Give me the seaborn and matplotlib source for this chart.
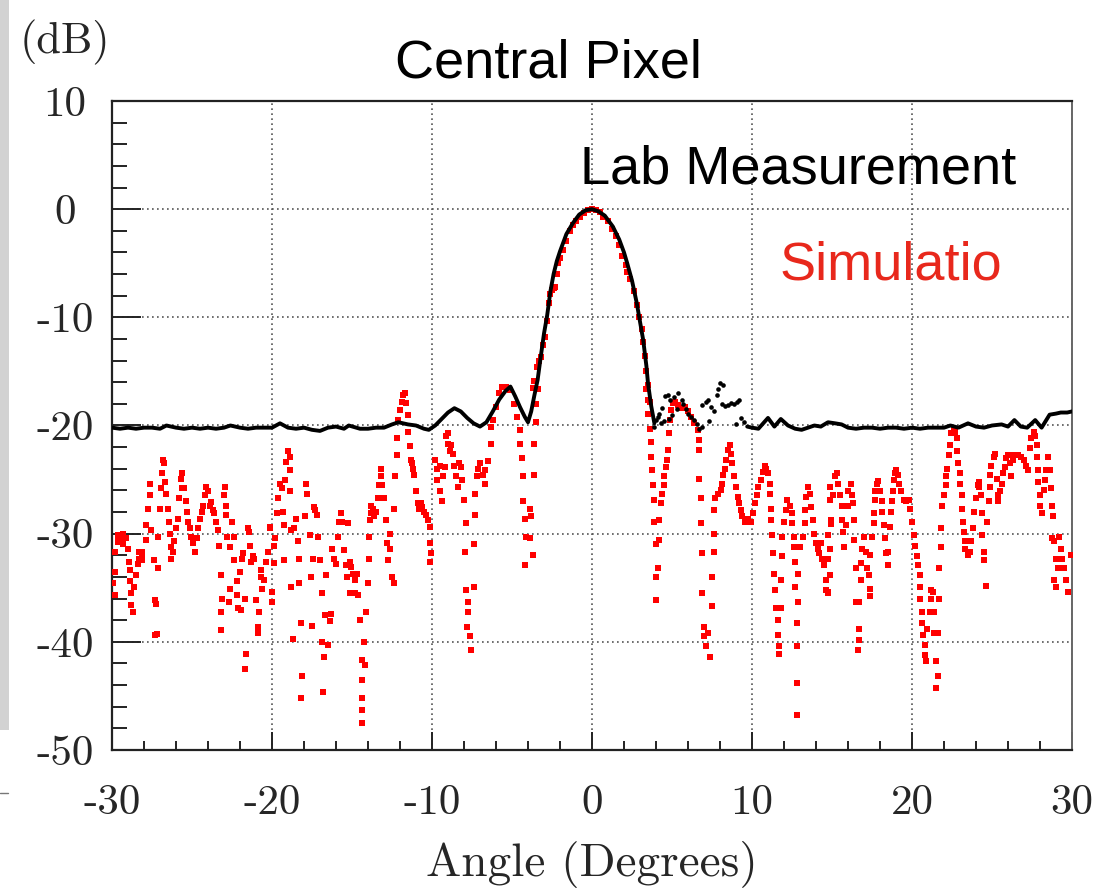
import matplotlib
matplotlib.use("Agg")
import matplotlib.pyplot as plt
import seaborn as sns
import pandas as pd
from matplotlib.ticker import MultipleLocator
from matplotlib.patches import Rectangle
from matplotlib.lines import Line2D

# ---------------- texts ----------------
TITLE = "Central Pixel"
LABEL_MEAS = "Lab Measurement"
LABEL_SIM = "Simulatio"
Y_UNIT = "(dB)"
X_LABEL = "Angle (Degrees)"
x_ticks = [-30, -20, -10, 0, 10, 20, 30]
y_ticks = [-50, -40, -30, -20, -10, 0, 10]

# ---------------- lab measurement (angle, dB) ----------------
meas_line_left = [
    (-30, -20.2), (-29.5, -20.3), (-29, -20.2), (-28.5, -20.3), (-28, -20.2), (-27.5, -20.2),
    (-27, -20.3), (-26.6, -20.0), (-26, -20.2), (-25.5, -20.3), (-25, -20.2), (-24.5, -20.3),
    (-24, -20.2), (-23.5, -20.3), (-23, -20.2), (-22.6, -20.0), (-22, -20.2), (-21.5, -20.3),
    (-21, -20.2), (-20.5, -20.2), (-20, -20.2), (-19.5, -19.8), (-19, -20.2), (-18.5, -20.3),
    (-18, -20.2), (-17.5, -20.4), (-17, -20.5), (-16.5, -20.2), (-16, -20.1), (-15.5, -20.3),
    (-15.2, -20.0), (-14.5, -20.3), (-14, -20.3), (-13.5, -20.2), (-13, -20.2), (-12.5, -19.9),
    (-12.1, -19.7), (-11.5, -19.9), (-11, -20.0), (-10.5, -20.3), (-10.2, -20.4), (-9.8, -20.0),
    (-9.4, -19.4), (-9.0, -18.8), (-8.6, -18.4), (-8.2, -18.7), (-7.8, -19.3), (-7.4, -19.8),
    (-7.0, -20.1), (-6.6, -19.7), (-6.2, -18.7), (-5.8, -17.6), (-5.4, -16.8), (-5.1, -16.4),
    (-4.8, -17.3), (-4.5, -18.3), (-4.2, -19.2), (-4.0, -19.7), (-3.8, -18.7), (-3.6, -17.2),
    (-3.4, -15.8), (-3.2, -13.6), (-3.0, -11.5), (-2.8, -9.8), (-2.6, -7.6), (-2.4, -6.0),
    (-2.2, -4.8), (-2.0, -3.9), (-1.6, -2.3), (-1.2, -1.3), (-0.8, -0.5), (-0.4, -0.1),
    (0, 0), (0.4, -0.2), (0.8, -0.6), (1.3, -1.6), (1.7, -2.8), (2.0, -4.0), (2.2, -5.0),
    (2.5, -6.6), (2.8, -8.7), (3.0, -10.4), (3.2, -12.1), (3.4, -14.5), (3.5, -16.1),
    (3.7, -18.2), (3.9, -19.8),
]
meas_line_right = [
    (9.7, -20.1), (10.0, -20.2), (10.4, -20.3), (10.7, -19.8), (11.0, -19.3), (11.4, -20.1),
    (11.8, -19.4), (12.25, -20.0), (12.7, -20.3), (13.1, -20.4), (13.5, -20.2), (13.9, -20.0),
    (14.3, -20.1), (14.75, -19.7), (15.2, -19.8), (15.6, -19.9), (16.0, -20.2), (16.5, -20.3),
    (17.0, -20.2), (17.5, -20.2), (18.0, -20.3), (18.5, -20.2), (19.0, -20.2), (19.5, -20.3),
    (20.0, -20.2), (20.5, -20.3), (21.0, -20.2), (21.5, -20.2), (22.0, -20.2), (22.4, -20.0),
    (22.9, -20.2), (23.5, -19.8), (24.0, -20.1), (24.5, -20.2), (25.0, -20.0), (25.6, -19.9),
    (26.0, -20.1), (26.4, -19.5), (26.8, -20.1), (27.2, -20.2), (27.7, -19.5), (28.1, -20.2),
    (28.6, -19.0), (29.0, -18.9), (29.3, -18.8), (29.7, -18.8), (30.0, -18.7),
]
meas_points = [
    (3.9, -20.1), (4.0, -19.5), (4.1, -19.2), (4.2, -18.9), (4.35, -18.4), (4.55, -17.3),
    (4.75, -17.2), (4.9, -17.6), (5.1, -17.4), (5.4, -17.0), (5.6, -17.6), (5.7, -18.0),
    (5.85, -18.5), (6.0, -18.9), (6.2, -19.2), (6.4, -19.5), (6.55, -19.9), (6.7, -20.3),
    (6.9, -18.1), (7.1, -17.8), (7.25, -17.6), (7.45, -18.3), (7.6, -18.7), (7.8, -17.2),
    (7.9, -16.6), (8.0, -16.1), (8.2, -16.3), (8.1, -18.0), (8.3, -18.2), (8.5, -18.1),
    (8.7, -17.9), (8.9, -18.0), (9.05, -17.8), (9.2, -17.6), (9.3, -19.3), (9.5, -19.7),
    (4.3, -19.8), (4.5, -19.6), (4.8, -19.4), (5.0, -19.0), (5.3, -18.5), (6.9, -20.1),
    (7.3, -19.6), (9.0, -19.9),
]

# ---------------- simulation (angle, dB) ----------------
sim_far_left = [
    (-29.94, -34.6), (-29.83, -31.7), (-29.83, -33.5), (-29.83, -35.7), (-29.6, -30.1), (-29.6, -30.5),
    (-29.6, -30.8), (-29.45, -30.2), (-29.3, -30.0), (-29.3, -30.6), (-29.3, -31.0), (-29.1, -30.4),
    (-29.0, -31.4), (-28.96, -32.6), (-28.9, -33.4), (-28.9, -34.4), (-28.8, -35.5), (-28.8, -36.6),
    (-28.7, -37.2), (-28.6, -34.9), (-28.5, -33.8), (-28.4, -32.8), (-28.3, -31.7), (-28.3, -32.3),
    (-28.1, -31.7), (-28.1, -32.0), (-28.1, -32.4), (-27.85, -30.6), (-27.85, -29.2), (-27.75, -27.7),
    (-27.65, -26.4), (-27.65, -25.4), (-27.55, -29.7), (-27.4, -32.4), (-27.3, -36.1), (-27.25, -36.5),
    (-27.3, -39.4), (-27.2, -39.3), (-27.1, -33.2), (-27.1, -30.3), (-27.0, -27.7), (-26.96, -25.8),
    (-26.9, -24.4), (-26.8, -23.2), (-26.75, -23.5), (-26.67, -25.2), (-26.6, -26.3), (-26.5, -27.7),
    (-26.45, -28.9), (-26.4, -30.0), (-26.3, -31.2), (-26.3, -32.3), (-26.2, -31.7), (-26.1, -30.7),
    (-26.0, -29.5), (-25.9, -28.6), (-25.8, -26.7), (-25.7, -24.9), (-25.6, -24.4), (-25.6, -25.8),
    (-25.5, -25.8), (-25.35, -27.0), (-25.3, -28.0), (-25.25, -28.9), (-25.15, -29.5), (-25.05, -30.3),
    (-24.94, -30.9), (-24.8, -31.7), (-24.7, -30.4), (-24.6, -29.5), (-24.5, -28.6), (-24.4, -28.0),
    (-24.3, -27.4), (-24.2, -26.4), (-24.1, -25.7), (-24.0, -26.1), (-23.9, -27.4), (-23.8, -27.1),
    (-23.7, -27.8), (-23.6, -28.1), (-23.5, -28.9), (-23.4, -29.7), (-23.3, -31.1), (-23.2, -33.8),
    (-23.2, -37.2), (-23.2, -38.9), (-23.1, -36.0), (-23.0, -26.4), (-22.96, -25.7), (-22.9, -27.4),
    (-22.85, -28.3), (-22.8, -30.3), (-22.7, -36.3), (-22.65, -35.1), (-22.6, -31.2), (-22.5, -28.9),
    (-22.4, -30.3), (-22.35, -32.4), (-22.2, -34.4), (-22.2, -35.7), (-22.1, -36.9), (-21.96, -37.1),
    (-22.0, -33.5), (-21.9, -32.3), (-21.8, -31.8), (-21.7, -42.5), (-21.65, -41.1), (-21.7, -36.0),
    (-21.5, -29.5), (-21.45, -29.8), (-21.4, -31.1), (-21.3, -32.6), (-21.2, -32.1), (-21.1, -32.3),
    (-21.0, -36.1), (-20.9, -38.6), (-20.9, -39.2), (-20.8, -37.2), (-20.7, -34.0), (-20.7, -33.4),
    (-20.6, -35.1), (-20.5, -34.3), (-20.35, -32.6), (-20.25, -31.7), (-20.1, -29.5), (-20.1, -29.4),
    (-20.0, -35.4), (-20.0, -36.3), (-19.9, -32.7), (-19.9, -31.1), (-19.8, -30.4), (-19.7, -28.1),
    (-19.6, -26.7), (-19.5, -25.4), (-19.4, -25.8), (-19.3, -28.0), (-19.25, -29.2), (-19.25, -32.4),
    (-19.2, -25.0), (-19.1, -23.4), (-19.0, -22.4), (-18.9, -22.9), (-18.9, -24.1), (-18.85, -26.1),
    (-18.8, -29.7), (-18.8, -34.9), (-18.7, -39.7), (-18.6, -29.5), (-18.5, -28.6), (-18.4, -30.7),
    (-18.3, -32.3), (-18.3, -34.6), (-18.2, -38.3), (-18.1, -43.2), (-18.2, -45.2), (-17.96, -28.4),
    (-17.85, -25.4), (-17.8, -26.3), (-17.65, -30.1), (-17.55, -34.0), (-17.5, -38.5), (-17.45, -32.3),
    (-17.4, -27.5), (-17.3, -27.8), (-17.2, -28.3), (-17.1, -30.3), (-17.0, -32.4), (-16.9, -35.5),
    (-16.85, -40.0), (-16.8, -44.6), (-16.75, -41.4), (-16.7, -37.5), (-16.6, -33.8), (-16.5, -40.3),
    (-16.4, -38.1), (-16.3, -37.4), (-16.25, -31.4), (-16.1, -32.3), (-16.0, -32.8), (-15.9, -30.3),
    (-15.8, -28.9), (-15.7, -28.1), (-15.6, -28.9), (-15.5, -31.5), (-15.35, -32.9), (-15.3, -34.0),
    (-15.15, -35.5),
]
sim_near_left = [
    (-15.25, -29.0), (-15.15, -32.6), (-15.05, -33.1), (-14.94, -33.7), (-14.8, -34.3), (-14.8, -35.5),
    (-14.7, -33.7), (-14.6, -35.7), (-14.5, -38.0), (-14.4, -41.7), (-14.4, -43.5), (-14.4, -45.2),
    (-14.4, -46.3), (-14.4, -47.5), (-14.25, -40.0), (-14.2, -42.1), (-14.1, -37.2), (-14.0, -34.6),
    (-13.96, -32.3), (-13.96, -30.3), (-13.9, -28.7), (-13.8, -28.1), (-13.8, -27.4), (-13.7, -27.7),
    (-13.6, -28.4), (-13.5, -28.0), (-13.4, -26.7), (-13.3, -25.5), (-13.2, -24.7), (-13.2, -24.0),
    (-13.1, -25.5), (-13.0, -26.7), (-12.85, -28.7), (-12.8, -30.9), (-12.75, -32.4), (-12.65, -30.0),
    (-12.6, -31.4), (-12.5, -34.0), (-12.4, -34.6), (-12.4, -27.7), (-12.3, -24.7), (-12.2, -22.7),
    (-12.2, -21.2), (-12.1, -19.5), (-12.0, -18.6), (-11.9, -17.8), (-11.8, -17.2), (-11.7, -17.0),
    (-11.6, -17.9), (-11.5, -19.0), (-11.5, -20.6), (-11.4, -21.9), (-11.3, -23.2), (-11.25, -23.5),
    (-11.2, -24.0), (-11.1, -24.6), (-11.0, -26.1), (-10.9, -27.2), (-10.8, -27.7), (-10.7, -27.2),
    (-10.6, -27.5), (-10.5, -28.0), (-10.35, -28.3), (-10.25, -28.7), (-10.15, -29.4), (-10.1, -30.9),
    (-10.05, -31.8), (-10.1, -32.6), (-9.8, -23.2), (-9.7, -24.0), (-9.7, -25.0), (-9.5, -26.1),
    (-9.4, -27.0), (-9.5, -23.7), (-9.3, -24.7), (-9.2, -23.8), (-9.1, -21.0), (-9.0, -20.7),
    (-9.0, -21.7), (-8.9, -22.4), (-8.8, -21.8), (-8.7, -22.6), (-8.6, -23.7), (-8.5, -24.7),
    (-8.4, -25.7), (-8.3, -23.5), (-8.2, -23.8), (-8.1, -25.0), (-8.0, -26.9), (-7.9, -29.0),
    (-7.96, -31.7), (-7.85, -35.2), (-7.75, -36.3), (-7.75, -37.2), (-7.8, -38.6), (-7.65, -39.5),
    (-7.55, -40.8), (-7.4, -34.9), (-7.4, -31.0), (-7.3, -28.3), (-7.3, -26.3), (-7.2, -24.7),
    (-7.1, -24.0), (-7.0, -23.5), (-6.8, -24.6), (-6.7, -25.4), (-6.7, -24.1), (-6.5, -23.3),
    (-6.3, -21.7), (-6.3, -20.1), (-6.2, -19.5), (-6.0, -18.3), (-5.8, -17.0), (-5.6, -16.4),
    (-5.4, -16.4), (-5.15, -16.7), (-4.9, -18.0), (-4.7, -19.2), (-4.5, -20.4), (-4.5, -21.7),
    (-4.4, -23.0), (-4.3, -24.7), (-4.3, -27.0), (-4.2, -28.6), (-4.1, -30.3), (-4.2, -32.9),
    (-3.9, -30.4), (-3.8, -28.4), (-3.7, -32.0), (-3.9, -27.7), (-3.6, -24.6), (-3.6, -21.7),
    (-3.5, -19.7), (-3.5, -18.0), (-3.4, -16.6),
]
sim_main_lobe = [
    (-3.7, -16.5), (-3.6, -15.9), (-3.45, -14.6), (-3.3, -14.0), (-3.2, -13.7), (-3.05, -12.6),
    (-2.95, -11.8), (-2.8, -10.3), (-2.7, -8.7), (-2.6, -7.8), (-2.5, -7.5), (-2.4, -7.3),
    (-2.3, -7.2), (-2.2, -6.0), (-2.1, -5.0), (-2.0, -4.5), (-1.8, -3.8), (-1.6, -2.9),
    (-1.4, -2.0), (-1.2, -1.5), (-1.0, -1.1), (-0.75, -0.7), (-0.5, -0.4), (-0.25, -0.1),
    (0, 0), (0.25, -0.1), (0.5, -0.3), (0.7, -0.7), (1.0, -1.1), (1.25, -1.8), (1.5, -2.5),
    (1.7, -3.3), (1.9, -4.3), (2.1, -5.2), (2.2, -5.8), (2.4, -6.5), (2.6, -7.6), (2.8, -8.9),
    (2.95, -10.0), (3.1, -11.1), (3.2, -12.3), (3.3, -13.6), (3.4, -15.0), (3.5, -16.3),
    (3.6, -17.8),
]
sim_near_right = [
    (3.4, -16.6), (3.5, -17.6), (3.5, -18.9), (3.6, -20.3), (3.7, -21.5), (3.7, -22.9),
    (3.75, -24.1), (3.8, -25.5), (3.9, -26.9), (3.9, -28.9), (4.0, -31.0), (4.0, -34.0),
    (4.0, -36.1), (4.1, -33.2), (4.2, -30.6), (4.2, -28.7), (4.3, -27.2), (4.4, -26.3),
    (4.5, -25.5), (4.5, -24.7), (4.6, -23.8), (4.7, -23.2), (4.75, -22.3), (4.8, -20.7),
    (4.85, -19.5), (4.95, -18.6), (5.05, -17.95), (5.2, -17.8), (5.4, -18.1), (5.6, -18.4),
    (5.8, -18.3), (6.0, -18.7), (6.2, -19.2), (6.4, -19.8), (6.6, -20.4), (6.7, -21.3),
    (6.7, -22.3), (6.7, -24.9), (6.8, -26.7), (6.8, -29.0), (6.9, -31.8), (6.9, -35.5),
    (7.0, -38.6), (7.0, -39.5), (7.1, -40.4), (7.35, -41.4), (7.25, -39.2), (7.5, -36.7),
    (7.5, -34.0), (7.6, -31.7), (7.6, -30.0), (7.6, -27.8), (7.7, -26.7), (7.9, -26.3),
    (8.05, -26.0), (8.1, -25.4), (8.2, -24.6), (8.3, -24.0), (8.4, -23.2), (8.5, -22.3),
    (8.6, -21.8), (8.7, -22.6), (8.75, -23.5), (8.9, -24.7), (9.0, -25.7), (9.1, -26.6),
    (9.2, -27.2), (9.3, -27.8), (9.4, -28.4), (9.55, -28.9), (9.75, -28.6), (9.96, -28.9),
    (10.06, -28.1), (10.2, -27.2), (10.3, -26.4), (10.4, -25.7), (10.55, -25.0), (10.7, -24.3),
    (10.8, -23.7), (10.9, -24.0), (11.0, -24.4), (11.1, -25.4), (11.1, -26.3), (11.2, -27.7),
    (11.2, -28.7), (11.25, -30.1), (11.3, -31.8), (11.4, -33.7), (11.45, -35.2), (11.5, -36.9),
    (11.6, -38.0), (11.6, -39.4), (11.7, -40.4), (11.7, -41.1), (11.8, -36.9), (11.8, -34.3),
    (11.9, -32.1), (11.9, -30.3), (12.0, -28.9), (12.1, -27.8), (12.2, -26.9), (12.35, -27.4),
    (12.5, -28.1), (12.5, -29.0), (12.6, -30.3), (12.6, -31.2), (12.7, -32.6), (12.7, -34.9),
    (12.8, -38.3), (12.8, -40.4), (12.8, -43.8), (12.8, -46.8), (12.9, -36.3), (12.9, -33.7),
    (13.0, -31.2), (13.2, -30.3), (13.3, -29.0), (13.3, -27.8), (13.4, -26.6), (13.5, -25.7),
    (13.6, -26.3), (13.7, -27.5), (13.8, -28.7), (13.9, -30.0), (14.0, -30.9), (14.1, -31.4),
    (14.2, -31.8), (14.3, -30.9), (14.4, -32.3), (14.5, -32.9), (14.6, -34.3), (14.65, -35.2),
    (14.75, -35.5), (14.85, -25.7), (14.9, -26.9), (14.95, -28.7),
]
sim_far_right = [
    (14.75, -30.1), (14.75, -32.3), (14.75, -35.4), (14.85, -33.8), (14.9, -31.4), (14.95, -29.1),
    (15.06, -26.4), (15.2, -24.7), (15.3, -24.4), (15.4, -25.4), (15.5, -26.4), (15.6, -27.4),
    (15.6, -28.7), (15.7, -29.8), (15.75, -31.2), (15.9, -29.2), (16.0, -27.4), (16.0, -26.1),
    (16.2, -25.4), (16.25, -26.4), (16.3, -27.2), (16.4, -28.7), (16.4, -30.6), (16.5, -33.2),
    (16.5, -36.3), (16.7, -36.3), (16.7, -38.8), (16.7, -39.8), (16.6, -40.8), (16.8, -34.3),
    (16.8, -32.7), (16.9, -31.4), (17.0, -30.3), (17.1, -31.7), (17.2, -33.2), (17.3, -33.8),
    (17.35, -35.1), (17.35, -35.8), (17.4, -32.0), (17.5, -30.3), (17.6, -29.0), (17.6, -28.1),
    (17.7, -26.9), (17.7, -26.1), (17.8, -25.4), (17.9, -25.1), (18.0, -26.1), (18.1, -27.0),
    (18.1, -28.0), (18.25, -29.2), (18.3, -30.4), (18.4, -31.8), (18.5, -32.9), (18.5, -31.7),
    (18.6, -29.4), (18.7, -28.0), (18.75, -27.0), (18.8, -26.1), (18.9, -25.0), (18.95, -24.4),
    (19.0, -24.1), (19.1, -24.6), (19.2, -25.4), (19.3, -26.1), (19.5, -26.9), (19.6, -27.0),
    (19.8, -26.9), (19.9, -27.7), (20.0, -28.9), (20.1, -30.1), (20.2, -31.1), (20.3, -32.1),
    (20.4, -32.9), (20.5, -33.8), (20.5, -34.9), (20.5, -36.0), (20.6, -37.2), (20.6, -38.3),
    (20.7, -39.4), (20.8, -40.3), (20.8, -41.2), (20.9, -41.8), (20.95, -38.8), (21.1, -37.2),
    (21.2, -36.0), (21.2, -35.2), (21.3, -35.4), (21.4, -37.2), (21.4, -39.2), (21.5, -41.8),
    (21.6, -43.2), (21.5, -44.3), (21.6, -39.2), (21.7, -36.0), (21.7, -33.2), (21.8, -31.2),
    (21.8, -29.5), (21.9, -27.4), (22.0, -26.4), (22.1, -25.5), (22.15, -24.7), (22.2, -24.0),
    (22.3, -22.7), (22.35, -21.8), (22.45, -20.7), (22.6, -20.3), (22.7, -20.6), (22.8, -21.2),
    (22.8, -22.4), (22.9, -23.5), (23.0, -24.4), (23.0, -25.4), (23.1, -26.4), (23.1, -27.7),
    (23.2, -28.9), (23.25, -29.8), (23.3, -30.7), (23.3, -31.4), (23.5, -32.0), (23.6, -31.7),
    (23.7, -30.7), (23.8, -29.5), (23.9, -28.0), (24.0, -26.7), (24.1, -25.5), (24.2, -25.2),
    (24.2, -25.7), (24.3, -26.4), (24.4, -28.1), (24.4, -30.1), (24.5, -31.7), (24.5, -32.4),
    (24.6, -34.8), (24.7, -28.9), (24.8, -27.0), (24.85, -25.7), (24.9, -24.6), (24.95, -23.7),
    (25.1, -22.9), (25.2, -22.6), (25.3, -24.9), (25.35, -26.4), (25.4, -27.0), (25.5, -26.1),
    (25.6, -25.4), (25.7, -24.4), (25.8, -23.8), (25.9, -23.0), (26.0, -22.7), (26.1, -23.5),
    (26.2, -24.7), (26.3, -23.2), (26.4, -22.7), (26.6, -22.7), (26.8, -22.9), (27.0, -23.2),
    (27.1, -23.7), (27.25, -24.1), (27.35, -22.1), (27.45, -21.2), (27.6, -20.6), (27.7, -21.0),
    (27.8, -21.8), (27.8, -22.9), (27.9, -24.1), (27.9, -25.2), (28.0, -26.4), (28.0, -27.4),
    (28.1, -28.1), (28.25, -26.0), (28.3, -25.0), (28.4, -24.1), (28.5, -22.9), (28.6, -24.1),
    (28.7, -25.8), (28.75, -27.4), (28.8, -28.4), (28.75, -30.4), (28.9, -30.7), (29.0, -32.3),
    (29.1, -33.2), (28.9, -34.3), (29.0, -34.9), (29.2, -30.3), (29.3, -31.4), (29.4, -32.3),
    (29.5, -33.2), (29.6, -34.3), (29.75, -35.4), (29.95, -32.0),
]

# ---------------- data frames ----------------
sim = pd.DataFrame(sim_far_left + sim_near_left + sim_main_lobe + sim_near_right + sim_far_right,
                   columns=["angle", "db"])
meas_left = pd.DataFrame(meas_line_left, columns=["angle", "db"])
meas_right = pd.DataFrame(meas_line_right, columns=["angle", "db"])
meas_pts = pd.DataFrame(meas_points, columns=["angle", "db"])

# ---------------- style ----------------
sns.set_theme(style="white")
plt.rcParams["font.family"] = ["cmr10", "DejaVu Serif"]
plt.rcParams["axes.unicode_minus"] = False
plt.rcParams["axes.formatter.use_mathtext"] = False

W, H = 1101, 893
fig = plt.figure(figsize=(W / 100, H / 100), dpi=100, facecolor="white")
ax = fig.add_axes([112 / W, 1 - 750 / H, (1072 - 112) / W, (750 - 101) / H])
ax.set_facecolor("white")

sns.scatterplot(data=sim, x="angle", y="db", marker="s", s=21, color="#ff0000",
                linewidth=0, ax=ax, legend=False, zorder=3)
for part in (meas_left, meas_right):
    sns.lineplot(data=part, x="angle", y="db", sort=False, estimator=None,
                 color="black", linewidth=2.8, ax=ax, zorder=4)
sns.scatterplot(data=meas_pts, x="angle", y="db", marker="o", s=11, color="black",
                linewidth=0, ax=ax, legend=False, zorder=4)

ax.set_xlim(-30, 30)
ax.set_ylim(-50, 10)
ax.set_xticks(x_ticks)
ax.set_xticklabels([str(v) for v in x_ticks])
ax.set_yticks(y_ticks)
ax.set_yticklabels([str(v) for v in y_ticks])
ax.xaxis.set_minor_locator(MultipleLocator(2))
ax.yaxis.set_minor_locator(MultipleLocator(2))
ax.grid(True, which="major", color="#555555", linestyle=(0, (1, 2)), linewidth=1.2)
ax.set_axisbelow(True)

ax.tick_params(axis="both", which="both", direction="in", top=False, right=False,
               left=True, bottom=True, color="#222222", width=1.4)
ax.tick_params(axis="y", which="major", length=21, pad=34, labelsize=31)
ax.tick_params(axis="y", which="minor", length=11)
ax.tick_params(axis="x", which="major", length=13, pad=25, labelsize=31)
ax.tick_params(axis="x", which="minor", length=6.5)
for lbl in ax.get_yticklabels():
    lbl.set_horizontalalignment("center")

for side in ("left", "bottom", "top"):
    ax.spines[side].set_color("#222222")
    ax.spines[side].set_linewidth(1.6)
ax.spines["right"].set_color("#666666")
ax.spines["right"].set_linewidth(1.4)

ax.set_xlabel(X_LABEL, fontsize=34)
ax.xaxis.set_label_coords(0.5, -0.14)
ax.set_ylabel("")

fig.text(65 / W, 1 - 42 / H, Y_UNIT, fontsize=32, ha="center", va="center")

sans = ["Liberation Sans", "DejaVu Sans"]
fig.text(395 / W, 1 - 77 / H, TITLE, family=sans, fontsize=39, ha="left", va="baseline", color="black")
fig.text(580 / W, 1 - 184 / H, LABEL_MEAS, family=sans, fontsize=39, ha="left", va="baseline", color="black")
fig.text(780 / W, 1 - 279 / H, LABEL_SIM, family=sans, fontsize=39, ha="left", va="baseline", color="#e8281c")

# page decorations at the left edge
fig.add_artist(Rectangle((0, 1 - 730 / H), 9 / W, 730 / H, transform=fig.transFigure,
                         facecolor="#d2d2d2", edgecolor="none", zorder=0))
fig.add_artist(Line2D([0, 8 / W], [1 - 793 / H, 1 - 793 / H], transform=fig.transFigure,
                      color="#777777", linewidth=1))

fig.savefig("out.png", dpi=100, facecolor="white")
